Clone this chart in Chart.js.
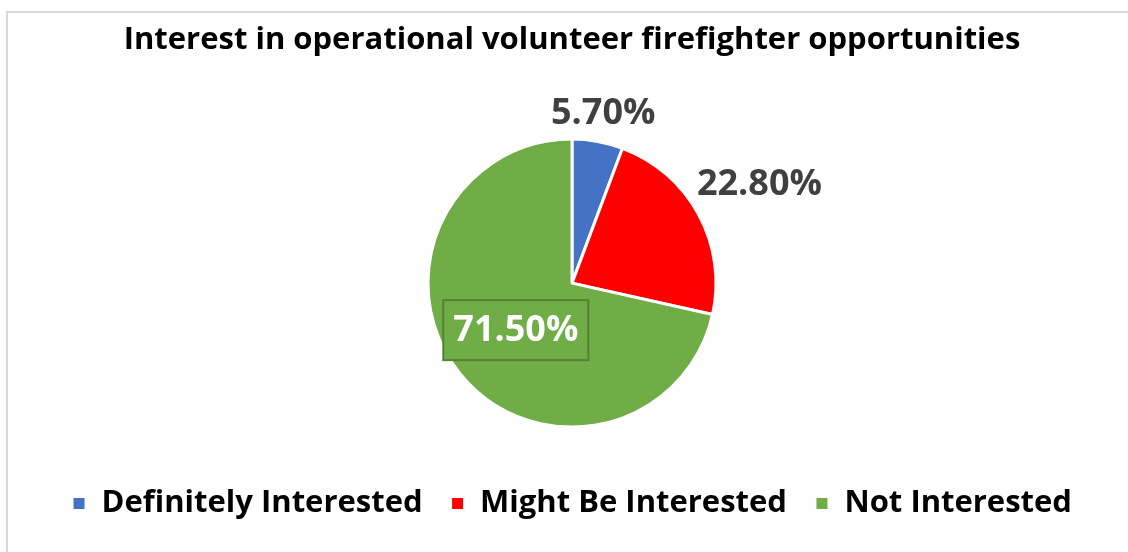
<!DOCTYPE html>
<html>
<head>
<meta charset="utf-8">
<script src="https://cdn.jsdelivr.net/npm/chart.js@4.4.1/dist/chart.umd.min.js"></script>
<style>
  html, body { margin: 0; padding: 0; background: #fff; }
  #wrap { position: relative; width: 1128px; height: 552px; overflow: hidden; }
  #frame {
    position: absolute; left: 6px; top: 11px; right: -10px; bottom: -10px;
    border-top: 2px solid #d9d9d9; border-left: 2px solid #d9d9d9;
  }
  #chart { position: absolute; left: 0; top: 0; }
</style>
</head>
<body>
<div id="wrap">
  <div id="frame"></div>
  <canvas id="chart" width="1128" height="552"></canvas>
</div>
<script>
// Chart data
const titleText = "Interest in operational volunteer firefighter opportunities";
const categories = ["Definitely Interested", "Might Be Interested", "Not Interested"];
const shares = [5.7, 22.8, 71.5];
const sliceColors = ["#4472C4", "#FF0000", "#70AD47"];

const FONT = "'Open Sans', sans-serif";

// draws the percentage labels, outside for small slices, boxed inside for the big one
const pieLabels = {
  id: "pieLabels",
  afterDatasetsDraw(chart) {
    const ctx = chart.ctx;
    const meta = chart.getDatasetMeta(0);
    meta.data.forEach(function(arc, i) {
      const p = arc.getProps(["x", "y", "startAngle", "endAngle", "outerRadius"], true);
      const mid = (p.startAngle + p.endAngle) / 2;
      const cos = Math.cos(mid), sin = Math.sin(mid);
      const text = shares[i].toFixed(2) + "%";
      ctx.save();
      ctx.font = "bold 36px " + FONT;
      ctx.textAlign = "center";
      ctx.textBaseline = "middle";
      const w = ctx.measureText(text).width;
      const h = 30;
      if (shares[i] > 50) {
        const x = p.x + cos * p.outerRadius * 0.5;
        const y = p.y + sin * p.outerRadius * 0.5;
        const bw = w + 20, bh = 60;
        ctx.fillStyle = sliceColors[i];
        ctx.fillRect(x - bw / 2, y - bh / 2 + 2, bw, bh);
        ctx.strokeStyle = "#548235";
        ctx.lineWidth = 2;
        ctx.strokeRect(x - bw / 2, y - bh / 2 + 2, bw, bh);
        ctx.fillStyle = "#ffffff";
        ctx.fillText(text, x, y + 3);
      } else {
        const ext = Math.abs(cos) * w / 2 + Math.abs(sin) * h / 2;
        const d = p.outerRadius + 7 + ext;
        ctx.fillStyle = "#404040";
        ctx.fillText(text, p.x + cos * d, p.y + sin * d + 3);
      }
      ctx.restore();
    });
  }
};

const ctx = document.getElementById("chart").getContext("2d");
const chart = new Chart(ctx, {
  type: "pie",
  data: {
    labels: categories,
    datasets: [{
      data: shares,
      backgroundColor: sliceColors,
      borderColor: "#ffffff",
      borderWidth: 3,
      radius: 144
    }]
  },
  options: {
    responsive: false,
    animation: false,
    layout: { padding: { left: 16, right: 0, top: 0, bottom: 23 } },
    plugins: {
      title: {
        display: true,
        text: titleText,
        color: "#000000",
        font: { family: FONT, size: 31, weight: "bold" },
        padding: { top: 22, bottom: 47 }
      },
      legend: {
        position: "bottom",
        labels: {
          color: "#000000",
          font: { family: FONT, size: 31, weight: "bold" },
          boxWidth: 14,
          boxHeight: 14,
          padding: 28
        }
      },
      tooltip: { enabled: false }
    }
  },
  plugins: [pieLabels]
});
</script>
</body>
</html>
